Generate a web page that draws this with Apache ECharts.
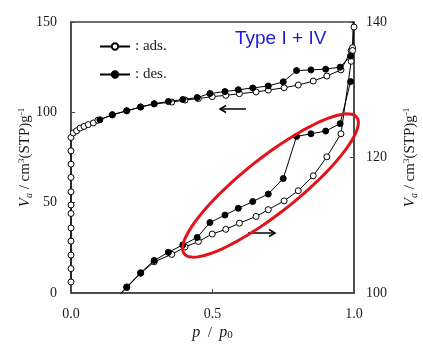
<!DOCTYPE html>
<html><head><meta charset="utf-8">
<script src="https://cdn.jsdelivr.net/npm/echarts@6/dist/echarts.min.js"></script>
<style>html,body{margin:0;padding:0;background:#fff}#c{width:423px;height:357px}</style>
</head><body><div id="c"></div>
<script>
// adsorption branch (p/p0, Va)
const adsP = [0,0,0,0,0,0,0,0,0,0,0,0,
  0.008,0.02,0.032,0.046,0.061,0.079,0.095,
  0.146,0.197,0.246,0.294,0.356,0.403,0.45,0.499,0.547,0.595,0.654,0.697,0.753,0.803,0.856,0.904,0.954,0.99,0.995,1.0];
const adsV = [6.1,13.5,21,28.7,36,44,48.7,56,64,71.3,78.7,86.1,
  88.6,89.8,91.3,92.2,93.2,94.1,95.6,
  98.6,100.8,102.9,104.6,105.7,106.8,107.6,108.7,109.4,110.3,111.3,112.3,113.6,115.1,117.3,120.1,123.5,134.2,135.8,147.2];
// desorption branch
const desP = [0.988,0.951,0.9,0.848,0.797,0.75,0.697,0.642,0.591,0.544,0.491,0.446,0.395,0.344,0.294,0.246,0.197,0.146,0.102];
const desV = [131.2,125.0,123.9,123.5,123.1,116.9,114.6,113.5,112.5,111.5,110.4,108.2,107.1,106.0,104.8,103.0,100.9,98.7,95.9];
// axis ranges / ticks
const xRange = [0, 1, 0.5];
const leftRange = [0, 150, 50];
const rightRange = [100, 140, 20];
const adsName = ': ads.';
const desName = ': des.';

const ads = adsP.map((p,i)=>[p, adsV[i]]);
const des = desP.map((p,i)=>[p, desV[i]]);

const serif = '"Liberation Serif","Times New Roman",serif';
const axisColor = '#444';
const txt = '#1a1a1a';

function mkSeries(name, data, yIdx, filled){
  return {
    name, type:'line', data, xAxisIndex:0, yAxisIndex:yIdx,
    symbol:'circle', symbolSize:6, clip:true,
    itemStyle:{color: filled ? '#000' : '#fff', borderColor:'#000', borderWidth:1},
    lineStyle:{color:'#000', width:1},
    emphasis:{disabled:true}, animation:false, z: filled?3:2
  };
}

const nameRich = {
  i:{fontFamily:serif, fontStyle:'italic', fontSize:15, color:txt},
  sub:{fontFamily:serif, fontStyle:'italic', fontSize:10, color:txt, verticalAlign:'bottom', padding:[6,0,0,0]},
  n:{fontFamily:serif, fontSize:15, color:txt},
  sup:{fontFamily:serif, fontSize:9, color:txt, verticalAlign:'top', padding:[0,0,8,0]}
};
const vName = '{i|V}{sub|a}{n| / cm}{sup|3}{n|(STP)g}{sup|-1}';

// ellipse outline
const ell = [];
{
  const cx=270.5, cy=185.5, a=110, b=27.5, th=38.4*Math.PI/180;
  for(let k=0;k<=96;k++){
    const t=k/96*2*Math.PI;
    const ux=Math.cos(th), uy=-Math.sin(th), nx=Math.sin(th), ny=Math.cos(th);
    ell.push([cx + a*Math.cos(t)*ux + b*Math.sin(t)*nx, cy + a*Math.cos(t)*uy + b*Math.sin(t)*ny]);
  }
}

const chart = echarts.init(document.getElementById('c'), null, {renderer:'canvas'});
chart.setOption({
  animation:false,
  backgroundColor:'#fff',
  grid:{left:71, right:69, top:22, bottom:64, show:true, borderColor:axisColor, borderWidth:1.5, backgroundColor:'transparent', containLabel:false, outerBoundsMode:'none'},
  legend:{
    orient:'vertical', left:94, top:34, itemWidth:30, itemHeight:8, itemGap:13,
    data:[adsName, desName],
    textStyle:{fontFamily:serif, fontSize:15, color:txt},
    selectedMode:false
  },
  xAxis:{
    type:'value', min:xRange[0], max:xRange[1], interval:xRange[2],
    axisLine:{lineStyle:{color:axisColor, width:1.5}},
    axisTick:{inside:true, length:4, lineStyle:{color:axisColor}},
    splitLine:{show:false},
    axisLabel:{fontFamily:serif, fontSize:14, color:txt, margin:14, formatter:v=>v.toFixed(1)},
    name:'{i|p}{n|  /  }{i|p}{sub2|0}', nameLocation:'middle', nameGap:32, nameMoveOverlap:false,
    nameTextStyle:{rich:{
      i:{fontFamily:serif, fontStyle:'italic', fontSize:16, color:txt},
      n:{fontFamily:serif, fontSize:15, color:txt},
      sub2:{fontFamily:serif, fontSize:11, color:txt, verticalAlign:'bottom', padding:[5,0,0,0]}
    }}
  },
  yAxis:[{
    type:'value', position:'left', min:leftRange[0], max:leftRange[1], interval:leftRange[2],
    axisLine:{show:true, lineStyle:{color:axisColor, width:1.5}},
    axisTick:{show:true, inside:true, length:4, lineStyle:{color:axisColor}},
    splitLine:{show:false},
    axisLabel:{fontFamily:serif, fontSize:14, color:txt, margin:14},
    name:vName, nameLocation:'middle', nameRotate:90, nameGap:37, nameMoveOverlap:false,
    nameTextStyle:{rich:nameRich}
  },{
    type:'value', position:'right', min:rightRange[0], max:rightRange[1], interval:rightRange[2],
    axisLine:{show:true, lineStyle:{color:axisColor, width:1.5}},
    axisTick:{show:true, inside:true, length:4, lineStyle:{color:axisColor}},
    splitLine:{show:false},
    axisLabel:{fontFamily:serif, fontSize:14, color:txt, margin:12},
    name:vName, nameLocation:'middle', nameRotate:90, nameGap:48, nameMoveOverlap:false,
    nameTextStyle:{rich:nameRich}
  }],
  series:[
    mkSeries(adsName, ads, 0, false),
    mkSeries(desName, des, 0, true),
    mkSeries(adsName, ads, 1, false),
    mkSeries(desName, des, 1, true)
  ],
  graphic:[
    {type:'text', left:235, top:29, style:{text:'Type I + IV', fill:'#1c1cd8', font:'19px "Liberation Sans", Arial, sans-serif'}},
    {type:'polyline', shape:{points:[[246,109],[220,109]]}, style:{stroke:'#000', lineWidth:1.5, fill:null}},
    {type:'polyline', shape:{points:[[226,105.5],[220,109],[226,112.5]]}, style:{stroke:'#000', lineWidth:1.5, fill:null}},
    {type:'polyline', shape:{points:[[248,233],[275,233]]}, style:{stroke:'#000', lineWidth:1.5, fill:null}},
    {type:'polyline', shape:{points:[[269,229.5],[275,233],[269,236.5]]}, style:{stroke:'#000', lineWidth:1.5, fill:null}},
    {type:'polygon', shape:{points:ell}, style:{stroke:'#e3131b', lineWidth:3, fill:null}, z:10}
  ]
});
</script>
</body></html>
